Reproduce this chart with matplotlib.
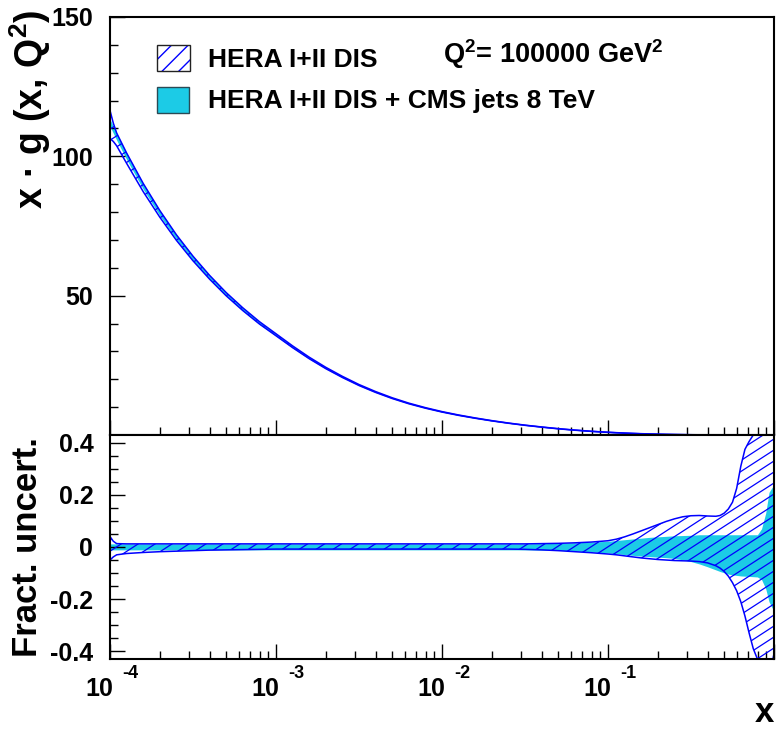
import numpy as np
import matplotlib
matplotlib.use("Agg")
import matplotlib.pyplot as plt
from matplotlib.patches import Rectangle, Polygon
from matplotlib.collections import LineCollection
from matplotlib.ticker import MultipleLocator, LogLocator, FixedLocator, NullFormatter
from matplotlib.transforms import IdentityTransform, offset_copy

plt.rcParams['font.family'] = ['Liberation Sans', 'DejaVu Sans']
plt.rcParams['font.weight'] = 'bold'
plt.rcParams['mathtext.fontset'] = 'custom'
plt.rcParams['mathtext.rm'] = 'Liberation Sans:bold'
plt.rcParams['mathtext.it'] = 'Liberation Sans:bold'
plt.rcParams['mathtext.bf'] = 'Liberation Sans:bold'
plt.rcParams['mathtext.default'] = 'rm'

# log10(x) grid shared by all curves
log_x = ([-4.0, -3.98, -3.96]
         + [-3.9, -3.8, -3.7, -3.6, -3.5, -3.4, -3.3, -3.2, -3.1, -3.0,
            -2.9, -2.8, -2.7, -2.6, -2.5, -2.4, -2.3, -2.2, -2.1, -2.0,
            -1.9, -1.8, -1.7, -1.6, -1.5, -1.4, -1.3, -1.2, -1.1]
         + [-1.0, -0.95, -0.9, -0.85, -0.8, -0.75, -0.7, -0.65, -0.6, -0.55,
            -0.5, -0.45, -0.4]
         + [-0.35, -0.325, -0.3, -0.275, -0.25, -0.225, -0.2, -0.175, -0.15,
            -0.125, -0.1, -0.075, -0.05]
         + [-0.03, -0.01, 0.0])

# gluon density x*g(x,Q2) at Q2 = 1e5 GeV2
xg_central = ([112, 109.5, 107]
              + [100, 89.2, 79.6, 71.0, 63.4, 56.6, 50.5, 45.1, 40.2, 35.9,
                 31.6, 27.6, 24.0, 20.8, 17.9, 15.4, 13.2, 11.3, 9.7, 8.3,
                 7.1, 6.05, 5.1, 4.25, 3.5, 2.85, 2.25, 1.75, 1.32]
              + [0.97, 0.82, 0.68, 0.56, 0.45, 0.36, 0.285, 0.22, 0.17, 0.13,
                 0.095, 0.068, 0.048]
              + [0.033, 0.028, 0.022, 0.019, 0.014, 0.012, 0.009, 0.007, 0.005,
                 0.0037, 0.0025, 0.0017, 0.001]
              + [0.0005, 0.0002, 0.0])

# fractional uncertainties, HERA I+II DIS only
hera_lo = ([-0.05, -0.038, -0.03]
           + [-0.025, -0.021, -0.018, -0.016, -0.014, -0.012, -0.011, -0.010, -0.009]
           + [-0.008] * 15
           + [-0.009, -0.011, -0.014, -0.018, -0.022]
           + [-0.027, -0.030, -0.034, -0.038, -0.042, -0.045, -0.048, -0.050, -0.052, -0.053,
              -0.054, -0.056, -0.061]
           + [-0.072, -0.081, -0.094, -0.112, -0.137, -0.168, -0.21, -0.265, -0.33,
              -0.39, -0.43, -0.46, -0.48]
           + [-0.47, -0.44, -0.41])
hera_hi = ([0.04, 0.022, 0.013]
           + [0.012] * 25
           + [0.013, 0.014, 0.016, 0.019]
           + [0.024, 0.030, 0.039, 0.050, 0.062, 0.074, 0.086, 0.098, 0.108, 0.116,
              0.120, 0.121, 0.119]
           + [0.118, 0.121, 0.130, 0.146, 0.172, 0.225, 0.310, 0.375, 0.405,
              0.43, 0.46, 0.485, 0.50]
           + [0.52, 0.54, 0.55])

# fractional uncertainties, HERA I+II DIS + CMS jets 8 TeV
cms_lo = ([-0.011] * 28
          + [-0.012, -0.013, -0.015, -0.019]
          + [-0.023, -0.026, -0.029, -0.032, -0.035, -0.037, -0.039, -0.041, -0.044, -0.049,
             -0.056, -0.065, -0.076]
          + [-0.088, -0.094, -0.099, -0.104, -0.107, -0.109, -0.111, -0.112, -0.113,
             -0.114, -0.115, -0.125, -0.16]
          + [-0.21, -0.235, -0.24])
cms_hi = ([0.012] * 28
          + [0.013, 0.014, 0.016, 0.019]
          + [0.022, 0.025, 0.028, 0.031, 0.034, 0.037, 0.039, 0.041, 0.043, 0.044,
             0.045, 0.047, 0.047]
          + [0.047] * 11
          + [0.07, 0.13]
          + [0.21, 0.23, 0.235])

cyan = '#1ccbe6'
blue = '#0000ff'

x = 10 ** np.array(log_x)
xg = np.array(xg_central)
h_lo, h_hi = np.array(hera_lo), np.array(hera_hi)
c_lo, c_hi = np.array(cms_lo), np.array(cms_hi)

fig = plt.figure(figsize=(7.78, 7.32), dpi=100)
ax1 = fig.add_axes([110 / 778, 1 - 435 / 732, 664 / 778, 418 / 732])
ax2 = fig.add_axes([110 / 778, 1 - 659 / 732, 664 / 778, 224 / 732])


def hatch_band(ax, xs, lo, hi, step=11.0, angle=33.0):
    # slanted hatch lines clipped to the band outline
    verts = np.concatenate([np.column_stack([xs, hi]),
                            np.column_stack([xs[::-1], lo[::-1]])])
    outline = Polygon(verts, closed=True, fill=False, edgecolor='none')
    ax.add_patch(outline)
    bb = ax.bbox
    t = np.tan(np.radians(angle))
    w, h = bb.width, bb.height
    segs = []
    c = -t * w
    while c < h:
        segs.append([(bb.x0, bb.y0 + c), (bb.x1, bb.y0 + c + t * w)])
        c += step
    lc = LineCollection(segs, colors=blue, linewidths=0.9, transform=IdentityTransform())
    lc.set_clip_path(outline)
    lc.set_clip_box(ax.bbox)
    ax.add_collection(lc, autolim=False)


# upper panel: absolute gluon density
ax1.fill_between(x, xg * (1 + c_lo), xg * (1 + c_hi), color=cyan, lw=0)
hatch_band(ax1, x, xg * (1 + h_lo), xg * (1 + h_hi))
ax1.plot(x, xg * (1 + h_hi), color=blue, lw=1.1)
ax1.plot(x, xg * (1 + h_lo), color=blue, lw=1.1)

# lower panel: fractional uncertainty
ax2.fill_between(x, c_lo, c_hi, color=cyan, lw=0)
hatch_band(ax2, x, h_lo, h_hi)
ax2.plot(x, h_hi, color=blue, lw=1.1)
ax2.plot(x, h_lo, color=blue, lw=1.1)

for ax in (ax1, ax2):
    ax.set_xscale('log')
    ax.set_xlim(1e-4, 1)
    ax.xaxis.set_major_locator(FixedLocator([1e-4, 1e-3, 1e-2, 1e-1, 1]))
    ax.xaxis.set_minor_locator(LogLocator(base=10, subs=np.arange(2, 10), numticks=20))
    ax.xaxis.set_minor_formatter(NullFormatter())
    ax.tick_params(which='both', direction='in', top=False, right=False,
                   labelbottom=False, width=1.0, labelsize=18, pad=12)
    ax.tick_params(which='major', length=11)
    ax.tick_params(which='minor', length=5.5)
    for s in ax.spines.values():
        s.set_linewidth(1.5)

ax1.set_ylim(0, 150)
ax1.set_yticks([50, 100, 150])
ax1.set_yticklabels(['50', '100', '150'])
ax1.yaxis.set_minor_locator(MultipleLocator(10))

ax2.set_ylim(-0.43, 0.43)
ax2.set_yticks([-0.4, -0.2, 0, 0.2, 0.4])
ax2.set_yticklabels(['-0.4', '-0.2', '0', '0.2', '0.4'])
ax2.yaxis.set_minor_locator(MultipleLocator(0.05))

# decade labels below the lower panel
base_tr = ax2.get_xaxis_transform()
tr_base = offset_copy(base_tr, fig=fig, x=3, y=-30, units='dots')
tr_exp = offset_copy(base_tr, fig=fig, x=12, y=-14, units='dots')
for e in [-4, -3, -2, -1]:
    ax2.text(10.0 ** e, 0, '10', transform=tr_base, ha='right', va='center', fontsize=18)
    ax2.text(10.0 ** e, 0, str(e), transform=tr_exp, ha='left', va='center', fontsize=13)

fig.text(774 / 778, 1 - 713 / 732, 'x', ha='right', va='center', fontsize=25)
fig.text(30 / 778, 1 - 10 / 732, 'x \u00b7 g (x, Q$^{2}$)', rotation=90,
         ha='center', va='top', fontsize=27)
fig.text(28 / 778, 1 - 437 / 732, 'Fract. uncert.', rotation=90,
         ha='center', va='top', fontsize=25)

# legend
fig.patches.append(Rectangle((157 / 778, 1 - 71 / 732), 33 / 778, 26 / 732,
                             transform=fig.transFigure, facecolor='white',
                             edgecolor=blue, hatch='//', lw=0))
fig.patches.append(Rectangle((157 / 778, 1 - 71 / 732), 33 / 778, 26 / 732,
                             transform=fig.transFigure, fill=False,
                             edgecolor='#222222', lw=1.0))
fig.patches.append(Rectangle((157 / 778, 1 - 113 / 732), 32 / 778, 26 / 732,
                             transform=fig.transFigure, facecolor=cyan,
                             edgecolor='#2a4a55', lw=1.0))
fig.text(208 / 778, 1 - 60 / 732, 'HERA I+II DIS', ha='left', va='center', fontsize=19)
fig.text(208 / 778, 1 - 101 / 732, 'HERA I+II DIS + CMS jets 8 TeV', ha='left',
         va='center', fontsize=19)
fig.text(443 / 778, 1 - 63 / 732, r'Q$^{2}$= 100000 GeV$^{2}$', ha='left',
         va='baseline', fontsize=19.5)

fig.savefig('out.png', dpi=100)
